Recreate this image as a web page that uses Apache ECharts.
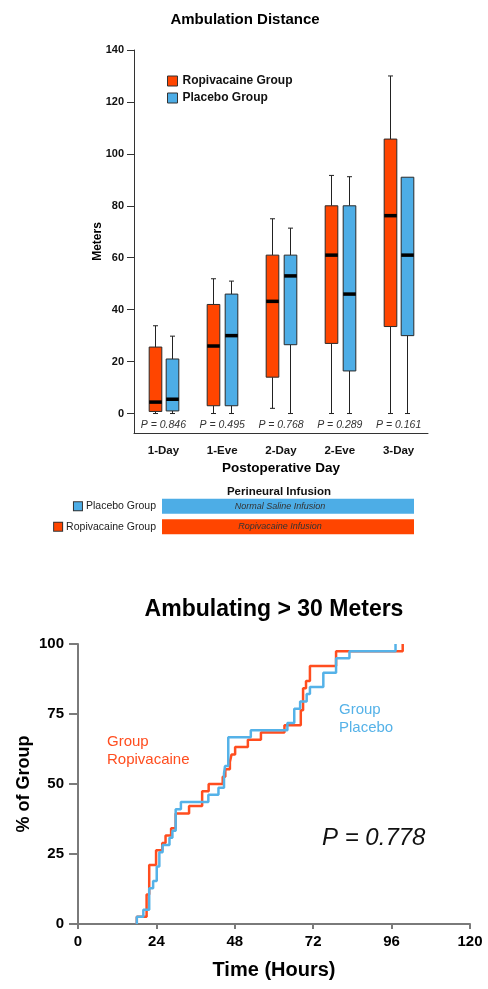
<!DOCTYPE html>
<html><head><meta charset="utf-8">
<script src="https://cdn.jsdelivr.net/npm/echarts@6/dist/echarts.min.js"></script>
<style>html,body{margin:0;padding:0;background:#fff}#c{width:488px;height:989px}</style>
</head><body><div id="c"></div>
<script>
// ---- Box plot data (meters) ----
const days = ['1-Day','1-Eve','2-Day','2-Eve','3-Day'];
const ropMin = [0, 0, 2, 0, 0];
const ropQ1  = [0.8, 3, 14, 27, 33.5];
const ropMed = [4.4, 26, 43.2, 61, 76.2];
const ropQ3  = [25.6, 42, 61, 80, 105.7];
const ropMax = [33.8, 51.9, 75, 91.7, 130];
const plaMin = [0, 0, 0, 0, 0];
const plaQ1  = [1, 3, 26.5, 16.4, 30];
const plaMed = [5.5, 30, 53, 46, 61];
const plaQ3  = [21, 46, 61, 80, 91];
const plaMax = [29.8, 51, 71.4, 91.2, 91];
const pValues = ['0.846', '0.495', '0.768', '0.289', '0.161'];
const yTicksTop = [0, 20, 40, 60, 80, 100, 120, 140];

// ---- Infusion bars ----
const infusionGroups = ['Ropivacaine Group', 'Placebo Group'];
const infusionLabels = ['Ropivacaine Infusion', 'Normal Saline Infusion'];
const infusionSpan = [1, 1];

// ---- Kaplan-Meier style curves: [hours, % of group] ----
const ropKM = [[18,0],[18,2.6],[21,10.5],[21.8,21.1],[23.9,26.3],[25.8,28.9],[26.8,31.6],[28.5,34.2],[29.9,39.5],[34,42.1],[38,47.4],[40,50],[44.3,52.6],[45.1,55.3],[46.5,57.9],[47,60.5],[48.1,63.2],[52,65.8],[56,68.4],[63.2,71],[68.2,76.3],[68.9,84.2],[69.8,86.8],[71,92.1],[79,97.4],[99.4,100]];
const plaKM = [[18,0],[18,2.6],[20,5.1],[21.8,12.8],[23,15.4],[24.1,20.5],[24.9,25.6],[25.9,28.2],[28,30.8],[28.9,33.3],[29.9,41],[31.5,43.6],[39.9,46.2],[43,48.7],[44.7,53.8],[45,56.4],[46,66.7],[52.9,69.2],[64.1,71.8],[66.2,76.9],[68,79.5],[70,82.1],[71,84.6],[75.1,89.7],[79,94.9],[83.1,97.4],[97.2,100]];

const ORANGE = '#FF4500';
const BLUE = '#4DADE6';
const LINE_RED = '#FF4D1F';
const LINE_BLUE = '#55B2E8';
const FONT = 'Liberation Sans, Arial, sans-serif';

function boxRender(offset, fill){
  return function(params, api){
    const i = api.value(0);
    const band = api.size([1,0])[0];
    const cx = Math.round(api.coord([i,0])[0] + offset*band) + 0.5;
    const w = 0.215*band, cap = 5;
    const y = v => api.coord([i, v])[1];
    const vMin = api.value(1), q1 = api.value(2), med = api.value(3), q3 = api.value(4), vMax = api.value(5);
    const ls = {stroke:'#222', lineWidth:1};
    const ch = [];
    if (vMax > q3) {
      ch.push({type:'line', shape:{x1:cx,y1:y(q3),x2:cx,y2:y(vMax)}, style:ls});
      ch.push({type:'line', shape:{x1:cx-cap/2,y1:y(vMax),x2:cx+cap/2,y2:y(vMax)}, style:ls});
    }
    if (vMin < q1) {
      ch.push({type:'line', shape:{x1:cx,y1:y(q1),x2:cx,y2:y(vMin)}, style:ls});
      ch.push({type:'line', shape:{x1:cx-cap/2,y1:y(vMin),x2:cx+cap/2,y2:y(vMin)}, style:ls});
    }
    ch.push({type:'rect', shape:{x:cx-w/2, y:y(q3), width:w, height:y(q1)-y(q3)}, style:{fill:fill, stroke:'#2a2a2a', lineWidth:1}});
    ch.push({type:'rect', shape:{x:cx-w/2, y:y(med)-1.75, width:w, height:3.5}, style:{fill:'#000'}});
    return {type:'group', children:ch};
  };
}

const chart = echarts.init(document.getElementById('c'), null, {renderer:'canvas'});
chart.setOption({
  animation:false,
  backgroundColor:'#fff',
  textStyle:{fontFamily:FONT},
  legend:{
    data:['Ropivacaine Group','Placebo Group'], orient:'vertical', left:162, top:69,
    icon:'rect', itemWidth:10, itemHeight:10, itemGap:3, selectedMode:false,
    textStyle:{fontSize:12, fontWeight:'bold', color:'#111', lineHeight:14, fontFamily:FONT},
    itemStyle:{borderColor:'#333', borderWidth:1}
  },
  grid:[
    {left:134, right:60, top:50, bottom:556},
    {left:162, right:74, top:496, bottom:452},
    {left:78, right:18, top:644, bottom:65}
  ],
  xAxis:[
    {gridIndex:0, type:'category', data:days, boundaryGap:true,
     axisLine:{onZero:false, lineStyle:{color:'#333', width:1}},
     axisTick:{alignWithLabel:true, length:6, lineStyle:{color:'#333'}},
     axisLabel:{fontSize:11.5, fontWeight:'bold', color:'#111', margin:12, fontFamily:FONT},
     name:'Postoperative Day', nameLocation:'middle', nameGap:28,
     nameTextStyle:{fontSize:13.5, fontWeight:'bold', color:'#000', fontFamily:FONT}},
    {gridIndex:1, type:'value', min:0, max:1, show:false},
    {gridIndex:2, type:'value', min:0, max:120, interval:24,
     axisLine:{onZero:false, lineStyle:{color:'#7a7a7a', width:2}},
     axisTick:{length:5, lineStyle:{color:'#7a7a7a', width:2}},
     splitLine:{show:false},
     axisLabel:{fontSize:15, fontWeight:'bold', color:'#000', margin:10, fontFamily:FONT},
     name:'Time (Hours)', nameLocation:'middle', nameGap:36,
     nameTextStyle:{fontSize:20, fontWeight:'bold', color:'#000', fontFamily:FONT}}
  ],
  yAxis:[
    {gridIndex:0, type:'value', min:-7.5, max:140,
     axisLine:{show:true, lineStyle:{color:'#333', width:1}},
     axisTick:{show:true, length:7, customValues:yTicksTop, lineStyle:{color:'#333'}},
     axisLabel:{customValues:yTicksTop, fontSize:11, fontWeight:'bold', color:'#111', margin:10, fontFamily:FONT},
     splitLine:{show:false},
     name:'Meters', nameLocation:'middle', nameGap:30, nameMoveOverlap:false,
     nameTextStyle:{fontSize:12, fontWeight:'bold', color:'#000', fontFamily:FONT}},
    {gridIndex:1, type:'category', data:infusionGroups,
     axisLine:{show:false}, axisTick:{show:false},
     axisLabel:{margin:6, color:'#222', fontFamily:FONT,
       formatter:(v, i) => '{sq' + i + '|}{t|' + v + '}',
       rich:{
         sq0:{width:8, height:8, backgroundColor:ORANGE, borderColor:'#333', borderWidth:1},
         sq1:{width:8, height:8, backgroundColor:BLUE, borderColor:'#333', borderWidth:1},
         t:{fontSize:10.5, color:'#222', padding:[0,0,0,4], fontFamily:FONT}
       }}},
    {gridIndex:2, type:'value', min:0, max:100, interval:25,
     axisLine:{show:true, lineStyle:{color:'#7a7a7a', width:2}},
     axisTick:{show:true, length:9, lineStyle:{color:'#7a7a7a', width:2}},
     splitLine:{show:false},
     axisLabel:{fontSize:15, fontWeight:'bold', color:'#000', margin:14, fontFamily:FONT},
     name:'% of Group', nameLocation:'middle', nameGap:45, nameMoveOverlap:false,
     nameTextStyle:{fontSize:18, fontWeight:'bold', color:'#000', fontFamily:FONT}}
  ],
  series:[
    {name:'Ropivacaine Group', type:'custom', xAxisIndex:0, yAxisIndex:0,
     itemStyle:{color:ORANGE, borderColor:'#333', borderWidth:1},
     renderItem:boxRender(-0.148, ORANGE),
     encode:{x:0, y:[1,2,3,4,5]},
     data:days.map((d,i)=>[i, ropMin[i], ropQ1[i], ropMed[i], ropQ3[i], ropMax[i]])},
    {name:'Placebo Group', type:'custom', xAxisIndex:0, yAxisIndex:0,
     itemStyle:{color:BLUE, borderColor:'#333', borderWidth:1},
     renderItem:boxRender(0.148, BLUE),
     encode:{x:0, y:[1,2,3,4,5]},
     data:days.map((d,i)=>[i, plaMin[i], plaQ1[i], plaMed[i], plaQ3[i], plaMax[i]])},
    {name:'pvals', type:'custom', xAxisIndex:0, yAxisIndex:0, silent:true,
     encode:{x:0, y:1},
     renderItem:function(params, api){
       const p = api.coord([api.value(0), 0]);
       return {type:'text', style:{x:p[0], y:p[1]+12, text:'P = ' + pValues[params.dataIndex],
         fill:'#333', font:'italic 10.5px ' + FONT, textAlign:'center', verticalAlign:'middle', textVerticalAlign:'middle'}};
     },
     data:days.map((d,i)=>[i, 0])},
    {name:'infusion', type:'bar', xAxisIndex:1, yAxisIndex:1, barWidth:15, silent:true,
     itemStyle:{color:(p)=> p.dataIndex === 0 ? ORANGE : BLUE},
     label:{show:true, position:'inside', offset:[-8,0], formatter:(p)=>infusionLabels[p.dataIndex],
       fontSize:9, fontStyle:'italic', color:'#333', fontFamily:FONT},
     data:infusionSpan},
    {name:'Ropivacaine KM', type:'line', xAxisIndex:2, yAxisIndex:2, step:'end', showSymbol:false,
     lineStyle:{color:LINE_RED, width:2.5}, itemStyle:{color:LINE_RED}, data:ropKM},
    {name:'Placebo KM', type:'line', xAxisIndex:2, yAxisIndex:2, step:'end', showSymbol:false,
     lineStyle:{color:LINE_BLUE, width:2.5}, itemStyle:{color:LINE_BLUE}, data:plaKM}
  ],
  graphic:[
    {type:'text', x:245, y:20, style:{text:'Ambulation Distance', fill:'#000', font:'bold 15px ' + FONT, textAlign:'center', verticalAlign:'middle', textVerticalAlign:'middle'}},
    {type:'text', x:274, y:610, style:{text:'Ambulating > 30 Meters', fill:'#000', font:'bold 23px ' + FONT, textAlign:'center', verticalAlign:'middle', textVerticalAlign:'middle'}},
    {type:'text', x:279, y:492, style:{text:'Perineural Infusion', fill:'#111', font:'bold 11.5px ' + FONT, textAlign:'center', verticalAlign:'middle', textVerticalAlign:'middle'}},
    {type:'text', x:107, y:733, style:{text:'Group\nRopivacaine', fill:LINE_RED, font:'15px ' + FONT, lineHeight:18, textAlign:'left', verticalAlign:'top'}},
    {type:'text', x:339, y:701, style:{text:'Group\nPlacebo', fill:LINE_BLUE, font:'15px ' + FONT, lineHeight:18, textAlign:'left', verticalAlign:'top'}},
    {type:'text', x:322, y:838, style:{text:'P = 0.778', fill:'#111', font:'italic 24px ' + FONT, textAlign:'left', verticalAlign:'middle', textVerticalAlign:'middle'}}
  ]
});
</script></body></html>
